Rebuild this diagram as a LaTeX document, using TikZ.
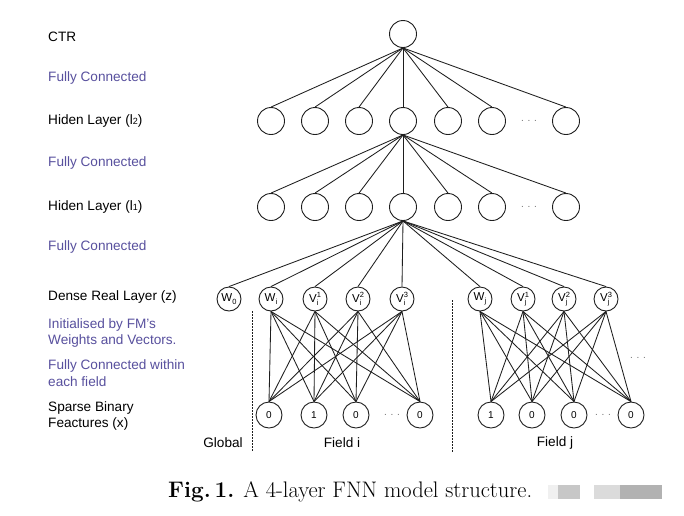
\documentclass[tikz,border=0pt]{standalone}
\usepackage{fontspec}
\setsansfont{Liberation Sans}
\definecolor{fcblue}{RGB}{88,80,158}
\definecolor{lnc}{RGB}{30,30,30}
\newcommand{\subsup}[3]{#1\rlap{\raisebox{-3pt}{\fontsize{7.5}{7.5}\selectfont #2}}\raisebox{4.5pt}{\fontsize{7.5}{7.5}\selectfont #3}}
\newcommand{\subonly}[2]{#1\raisebox{-3pt}{\fontsize{7.5}{7.5}\selectfont #2}}
\begin{document}
\begin{tikzpicture}[x=1pt,y=-1pt,
  neuron/.style={circle,draw=lnc,line width=0.9pt,minimum size=27pt,inner sep=0pt},
  densen/.style={circle,draw=lnc,line width=0.9pt,minimum size=24pt,inner sep=0pt,font=\sffamily\fontsize{11.5}{11.5}\selectfont},
  sparsen/.style={circle,draw=lnc,line width=0.9pt,minimum size=26pt,inner sep=0pt,font=\sffamily\fontsize{10}{10}\selectfont},
  conn/.style={draw=lnc,line width=0.85pt},
  lab/.style={anchor=west,font=\sffamily\fontsize{13.6}{16.5}\selectfont,align=left,inner sep=0pt},
  fc/.style={lab,text=fcblue},
  flab/.style={font=\sffamily\fontsize{13.6}{16.5}\selectfont,inner sep=0pt},
  dotsn/.style={font=\sffamily\fontsize{10}{10}\selectfont,text=black!55,inner sep=0pt},
  sepline/.style={draw=lnc,line width=0.9pt,dash pattern=on 1.5pt off 1.5pt}]
\useasboundingbox (0,0) rectangle (684,515);
\fill[white] (0,0) rectangle (684,515);

% left labels
\node[lab] (t1) at (48,37) {CTR};
\node[fc] (t2) at (48,78) {Fully Connected};
\node[lab] (t3) at (48,121) {Hiden Layer (l{\fontsize{9}{9}\selectfont 2})};
\node[fc] (t4) at (48,163) {Fully Connected};
\node[lab] (t5) at (48,207) {Hiden Layer (l{\fontsize{9}{9}\selectfont 1})};
\node[fc] (t6) at (48,247) {Fully Connected};
\node[lab] (t7) at (48,297) {Dense Real Layer (z)};
\node[fc] (t8) at (48,333) {Initialised by FM's\\Weights and Vectors.};
\node[fc] (t9) at (48,373) {Fully Connected within\\each field};
\node[lab] (t10) at (48,416) {Sparse Binary\\Feactures (x)};

% CTR and hidden layers
\node[neuron] (ctr) at (403,34) {};
\foreach \x [count=\i] in {271,315,359,403,448,492,566} {
  \node[neuron] (a\i) at (\x,121) {};
  \node[neuron] (b\i) at (\x,207) {};
}
\node[dotsn] (da) at (529,121) {. . .};
\node[dotsn] (db) at (529,207) {. . .};
\foreach \i in {1,...,7} {
  \draw[conn] (ctr.south) -- (a\i.north);
  \draw[conn] (a4.south) -- (b\i.north);
}

% dense layer
\node[densen] (w0) at (229,299) {\subonly{W}{0}};
\node[densen] (wi) at (271,299) {\subonly{W}{i}};
\node[densen] (vi1) at (315,299) {\subsup{V}{i}{1}};
\node[densen] (vi2) at (358,299) {\subsup{V}{i}{2}};
\node[densen] (vi3) at (402,299) {\subsup{V}{i}{3}};
\node[densen] (wj) at (480,299) {\subonly{W}{j}};
\node[densen] (vj1) at (523,299) {\subsup{V}{j}{1}};
\node[densen] (vj2) at (564,299) {\subsup{V}{j}{2}};
\node[densen] (vj3) at (606,299) {\subsup{V}{j}{3}};
\foreach \n in {w0,wi,vi1,vi2,vi3,wj,vj1,vj2,vj3}
  \draw[conn] (b4.south) -- (\n.north);

% sparse layer
\node[sparsen] (si1) at (269,415) {0};
\node[sparsen] (si2) at (314,415) {1};
\node[sparsen] (si3) at (356,415) {0};
\node[dotsn] (dsi) at (392,415) {. . .};
\node[sparsen] (si4) at (420,415) {0};
\node[sparsen] (sj1) at (491,415) {1};
\node[sparsen] (sj2) at (532,415) {0};
\node[sparsen] (sj3) at (574,415) {0};
\node[dotsn] (dsj) at (603,415) {. . .};
\node[sparsen] (sj4) at (631,415) {0};
\node[dotsn] (dright) at (638,358) {. . .};

\foreach \d in {wi,vi1,vi2,vi3}
  \foreach \s in {si1,si2,si3,si4}
    \draw[conn] (\d.south) -- (\s.north);
\foreach \d in {wj,vj1,vj2,vj3}
  \foreach \s in {sj1,sj2,sj3,sj4}
    \draw[conn] (\d.south) -- (\s.north);

% separators
\coordinate (s1a) at (252,311);
\coordinate (s1b) at (252,452);
\coordinate (s2a) at (452,300);
\coordinate (s2b) at (452,452);
\draw[sepline] (s1a) -- (s1b);
\draw[sepline] (s2a) -- (s2b);

\node[flab] (g) at (223,443) {Global};
\node[flab] (fi) at (342,443) {Field i};
\node[flab] (fj) at (555,443) {Field j};

% caption
\node[anchor=west,inner sep=0pt,font=\fontsize{22.5}{26}\selectfont] (cap) at (168,492) {\textbf{Fig.\,1.} A 4-layer FNN model structure.};
\fill[black!6] (548,485) rectangle (558,499);
\fill[black!22] (558,485) rectangle (580,499);
\fill[black!14] (594,485) rectangle (620,499);
\fill[black!30] (620,485) rectangle (662,499);
\end{tikzpicture}
\end{document}
